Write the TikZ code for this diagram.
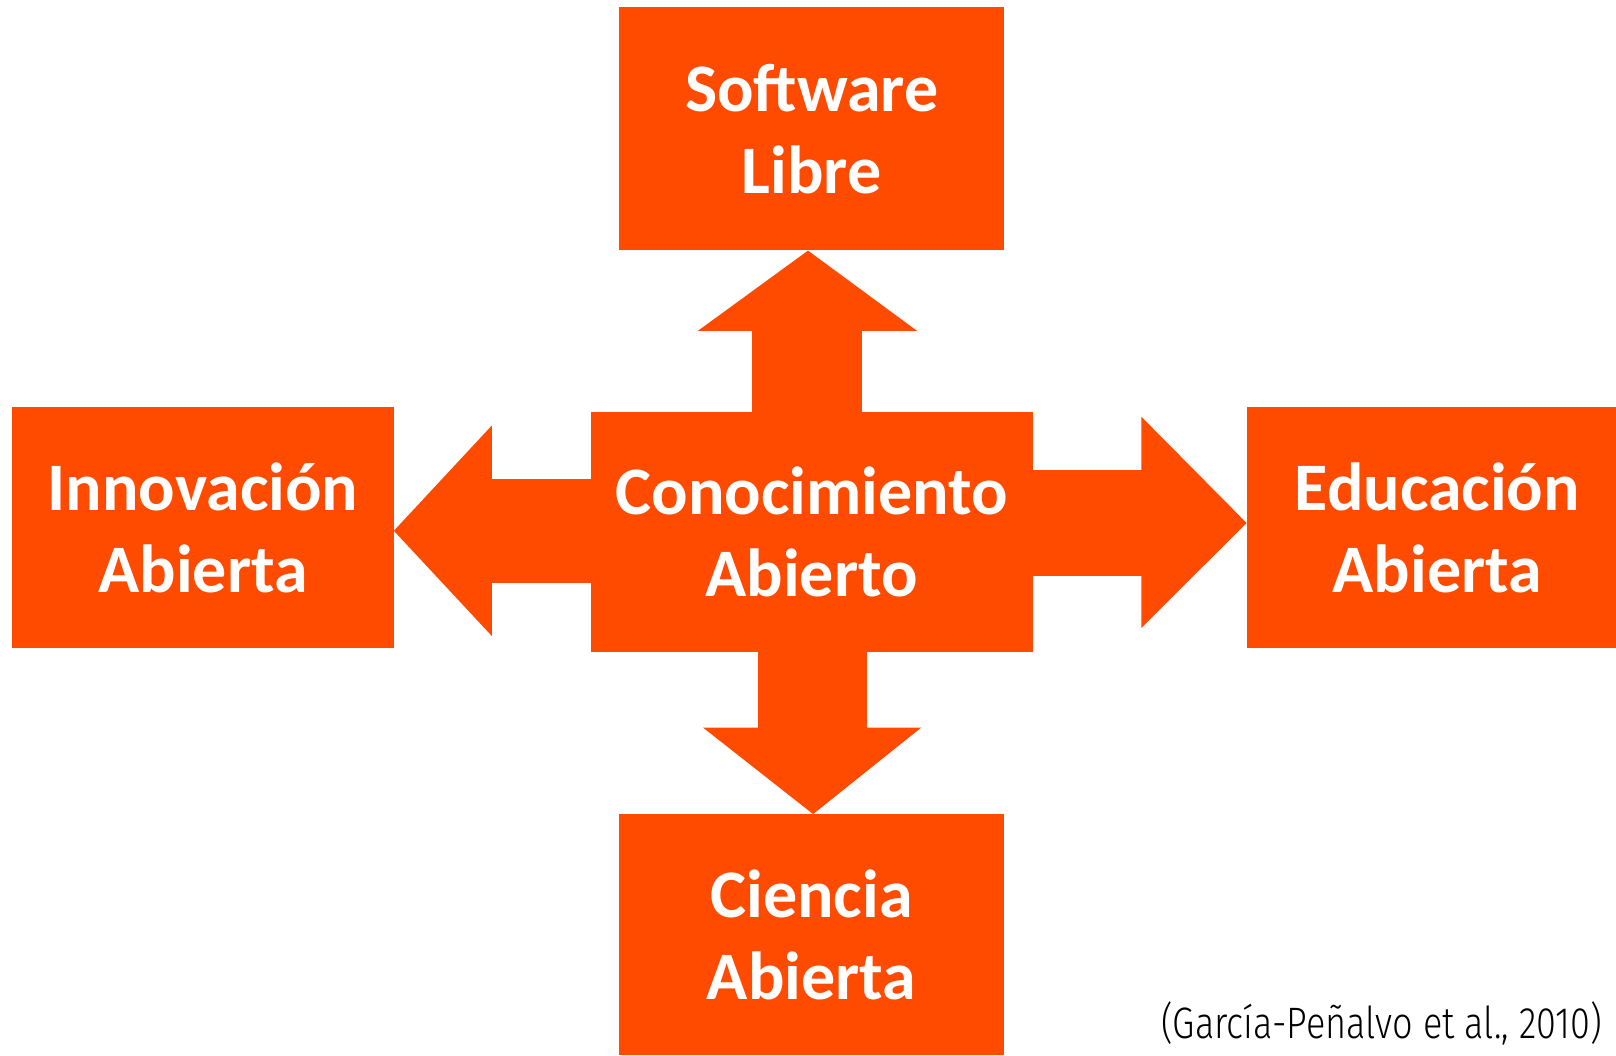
\documentclass[tikz,border=0pt]{standalone}
\usepackage{fontspec}
\setmainfont{Carlito}
\newfontfamily\citefont{Fira Sans Light}
\usetikzlibrary{calc}
\definecolor{boxorange}{RGB}{255,75,0}
\tikzset{
  box/.style={fill=boxorange, draw=none, inner sep=0pt, align=center,
    text=white, font=\bfseries\fontsize{68}{82}\selectfont},
  arr/.style={fill=boxorange, draw=none}
}
\begin{document}
\begin{tikzpicture}[x=1pt,y=-1pt]
\useasboundingbox (0,0) rectangle (1616,1056);
% boxes
\node[box, minimum width=384.4pt, minimum height=243.2pt] (sl) at (811.6,128.8) {Software\\Libre};
\node[box, minimum width=384.4pt, minimum height=241pt] (ci) at (811.6,934.8) {Ciencia\\Abierta};
\node[box, minimum width=381.3pt, minimum height=241pt] (ia) at (203,527.5) {Innovación\\Abierta};
\node[box, minimum width=369.2pt, minimum height=241pt, text width=369.2pt, xshift=0pt] (ea) at (1431.4,527.5) {\hspace*{12pt}Educación\\\hspace*{12pt}Abierta};
% up arrow
\fill[arr] ($(sl.south)+(-59.3,79)$) rectangle ($(sl.south |- 0,413.5)+(50,0)$);
\fill[arr] ([xshift=-3.6pt]sl.south) -- ++(-110.3,80.4) -- ++(219.5,0) -- cycle;
% down arrow
\fill[arr] ($(ci.north |- 0,651)+(-54.1,0)$) rectangle ($(ci.north)+(55.1,-85.6)$);
\fill[arr] ([xshift=1.5pt]ci.north) -- ++(-110.2,-86.6) -- ++(218.4,0) -- cycle;
% left arrow
\fill[arr] ($(ia.east)+(97,-48.3)$) rectangle ($(ia.east |- 0,583.3)+(199,0)$);
\fill[arr] ([yshift=-3.3pt]ia.east) -- ++(97.9,-105.2) -- ++(0,210.3) -- cycle;
% right arrow
\fill[arr] ($(ea.west)+(-216,-57.8)$) rectangle ($(ea.west)+(-104,48.5)$);
\fill[arr] ([yshift=4.5pt]ea.west) -- ++(-105.3,-106.3) -- ++(0,211.3) -- cycle;
% center box
\node[box, minimum width=442.2pt, minimum height=240.2pt] (ca) at (811.6,532.3) {Conocimiento\\Abierto};
% citation
\node[anchor=base east, inner sep=0pt, text=black] (cite) at (1602,1038)
  {\scalebox{0.82}[1]{\citefont\fontsize{44}{50}\selectfont (García-Peñalvo et al., 2010)}};
\end{tikzpicture}
\end{document}
